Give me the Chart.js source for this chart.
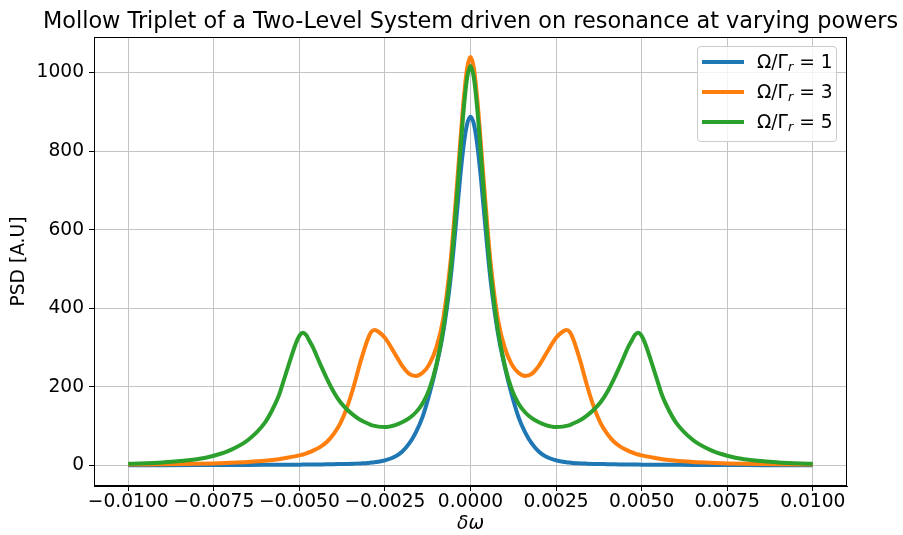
<!DOCTYPE html>
<html>
<head>
<meta charset="utf-8">
<script src="https://cdn.jsdelivr.net/npm/chart.js@4.4.0/dist/chart.umd.min.js"></script>
<style>
  body { margin: 0; background: #fff; }
  #wrap { position: relative; width: 903px; height: 535px; }
  #title {
    position: absolute; left: 0; top: 7px; width: 941px; text-align: center;
    font-family: 'DejaVu Sans', sans-serif; font-size: 22.4px; line-height: 26px;
    color: #000; white-space: nowrap;
  }
  #legend {
    position: absolute; left: 697px; top: 46px; width: 138px; height: 94px;
    border: 1px solid #cccccc; border-radius: 4px; background: rgba(255,255,255,0.8);
    font-family: 'DejaVu Sans', sans-serif; font-size: 18.67px; color: #000;
  }
  .swatch { position: absolute; left: 4px; width: 42px; height: 4px; }
  .lbl { position: absolute; left: 59px; height: 24px; line-height: 24px; white-space: nowrap; }
  .lbl sub { font-size: 0.7em; font-style: italic; vertical-align: -0.25em; line-height: 0; }
</style>
</head>
<body>
<div id="wrap">
  <canvas id="chart" width="903" height="535"></canvas>
  <div id="title">Mollow Triplet of a Two-Level System driven on resonance at varying powers</div>
  <div id="legend">
    <div class="swatch" style="top:13px;background:#1f77b4"></div>
    <div class="lbl" style="top:3px">Ω/Γ<sub>r</sub> = 1</div>
    <div class="swatch" style="top:43px;background:#ff7f0e"></div>
    <div class="lbl" style="top:33px">Ω/Γ<sub>r</sub> = 3</div>
    <div class="swatch" style="top:73px;background:#2ca02c"></div>
    <div class="lbl" style="top:63px">Ω/Γ<sub>r</sub> = 5</div>
  </div>
</div>
<script>
// detuning (x) shared by all three curves
const deltaOmega = [
  -0.01, -0.009, -0.008, -0.0075, -0.007, -0.0065, -0.006, -0.0058, -0.0056, -0.0054,
  -0.0051, -0.005, -0.0049, -0.0048, -0.0047, -0.0046, -0.0044, -0.0042, -0.004, -0.0038,
  -0.0036, -0.0034, -0.0032, -0.003, -0.0029, -0.0028, -0.0027, -0.0025, -0.0022, -0.002,
  -0.0018, -0.0016, -0.0014, -0.0012, -0.001, -0.0008, -0.0006, -0.0005, -0.0004, -0.0003,
  -0.0002, -0.0001,
  0,
  0.0001, 0.0002, 0.0003, 0.0004, 0.0005, 0.0006, 0.0008, 0.001, 0.0012, 0.0014,
  0.0016, 0.0018, 0.002, 0.0022, 0.0025, 0.0027, 0.0028, 0.0029, 0.003, 0.0032,
  0.0034, 0.0036, 0.0038, 0.004, 0.0042, 0.0044, 0.0046, 0.0047, 0.0048, 0.0049,
  0.005, 0.0051, 0.0054, 0.0056, 0.0058, 0.006, 0.0065, 0.007, 0.0075, 0.008,
  0.009, 0.01
];

// Omega/Gamma_r = 1
const psdRabi1 = [
  0.9, 1, 1.2, 1.3, 1.4, 1.6, 1.8, 1.9, 2, 2.1,
  2.3, 2.35, 2.4, 2.5, 2.6, 2.7, 2.9, 3.1, 3.4, 3.8,
  4.2, 4.8, 5.5, 6.5, 7.5, 8.5, 9.5, 13, 23, 35,
  55, 84, 124, 182, 252, 338, 462, 545, 640, 735,
  815, 868,
  887,
  868, 815, 735, 640, 545, 462, 338, 252, 182, 124,
  84, 55, 35, 23, 13, 9.5, 8.5, 7.5, 6.5, 5.5,
  4.8, 4.2, 3.8, 3.4, 3.1, 2.9, 2.7, 2.6, 2.5, 2.4,
  2.35, 2.3, 2.1, 2, 1.9, 1.8, 1.6, 1.4, 1.3, 1.2,
  1, 0.9
];

// Omega/Gamma_r = 3
const psdRabi3 = [
  2.4, 3.2, 4.5, 5.5, 7, 9, 12, 14, 16, 19,
  24, 26, 28, 31, 34, 38, 47, 60, 80, 108,
  150, 205, 268, 322, 340, 345, 341, 325, 283, 254,
  234, 228, 236, 258, 300, 372, 505, 600, 708, 822,
  930, 1010,
  1039,
  1010, 930, 822, 708, 600, 505, 372, 300, 258, 236,
  228, 234, 254, 283, 325, 341, 345, 340, 322, 268,
  205, 150, 108, 80, 60, 47, 38, 34, 31, 28,
  26, 24, 19, 16, 14, 12, 9, 7, 5.5, 4.5,
  3.2, 2.4
];

// Omega/Gamma_r = 5
const psdRabi5 = [
  4.5, 8, 16, 25, 40, 65, 110, 140, 178, 232,
  311, 330, 338, 332, 316, 300, 260, 222, 188, 161,
  142, 127, 115, 107, 103, 101, 99, 98, 103, 110,
  120, 135, 158, 195, 255, 345, 480, 572, 680, 795,
  905, 985,
  1016,
  985, 905, 795, 680, 572, 480, 345, 255, 195, 158,
  135, 120, 110, 103, 98, 99, 101, 103, 107, 115,
  127, 142, 161, 188, 222, 260, 300, 316, 332, 338,
  330, 311, 232, 178, 140, 110, 65, 40, 25, 16,
  8, 4.5
];

const seriesNames = ['Ω/Γr = 1', 'Ω/Γr = 3', 'Ω/Γr = 5'];
const xTicks = [-0.01, -0.0075, -0.005, -0.0025, 0, 0.0025, 0.005, 0.0075, 0.01];
const yTicks = [0, 200, 400, 600, 800, 1000];

const blue = '#1f77b4', orange = '#ff7f0e', green = '#2ca02c';
const gridColor = '#c4c4c4';
const FONT = "'DejaVu Sans', sans-serif";

Chart.defaults.font.family = FONT;
Chart.defaults.color = '#000';

const pts = ys => deltaOmega.map((x, i) => ({ x: x, y: ys[i] }));

const line = (label, ys, color, order) => ({
  label, data: pts(ys), borderColor: color, backgroundColor: color,
  borderWidth: 4, pointRadius: 0, cubicInterpolationMode: 'monotone', order,
});

// top/right spines like matplotlib
const frame = {
  id: 'frame',
  afterDatasetsDraw(chart) {
    const { ctx, chartArea: a } = chart;
    ctx.save();
    ctx.strokeStyle = '#000';
    ctx.lineWidth = 1;
    ctx.strokeRect(a.left + 0.5, a.top + 0.5, a.right - a.left - 1, a.bottom - a.top - 1);
    ctx.restore();
  }
};

new Chart(document.getElementById('chart'), {
  type: 'line',
  data: {
    datasets: [
      line(seriesNames[0], psdRabi1, blue, 3),
      line(seriesNames[1], psdRabi3, orange, 2),
      line(seriesNames[2], psdRabi5, green, 1),
    ],
  },
  options: {
    responsive: false, animation: false, devicePixelRatio: 1,
    layout: { padding: { left: 0, right: 56, top: 37, bottom: 0 } },
    plugins: {
      legend: { display: false },
      tooltip: { enabled: false },
      title: { display: false },
    },
    scales: {
      x: {
        type: 'linear', min: -0.011, max: 0.011,
        afterBuildTicks: s => { s.ticks = xTicks.map(v => ({ value: v })); },
        afterFit: s => { s.height = 49; },
        ticks: {
          font: { size: 18.67 }, padding: 0, maxRotation: 0, autoSkip: false,
          callback: v => (v < 0 ? '\u2212' : '') + Math.abs(v).toFixed(4),
        },
        grid: { color: gridColor, lineWidth: 1, tickColor: '#000', tickLength: 5 },
        border: { color: '#000', width: 1 },
        title: { display: true, text: 'δω', font: { size: 18.67, style: 'italic' }, padding: { top: 0, bottom: 0 } },
      },
      y: {
        type: 'linear', min: -52, max: 1090,
        afterBuildTicks: s => { s.ticks = yTicks.map(v => ({ value: v })); },
        afterFit: s => { s.width = 94; },
        ticks: { font: { size: 18.67 }, padding: 5, callback: v => String(v) },
        grid: { color: gridColor, lineWidth: 1, tickColor: '#000', tickLength: 5 },
        border: { color: '#000', width: 1 },
        title: { display: true, text: 'PSD [A.U]', font: { size: 18.67 }, padding: { top: 8, bottom: 0 } },
      },
    },
  },
  plugins: [frame],
});
</script>
</body>
</html>
